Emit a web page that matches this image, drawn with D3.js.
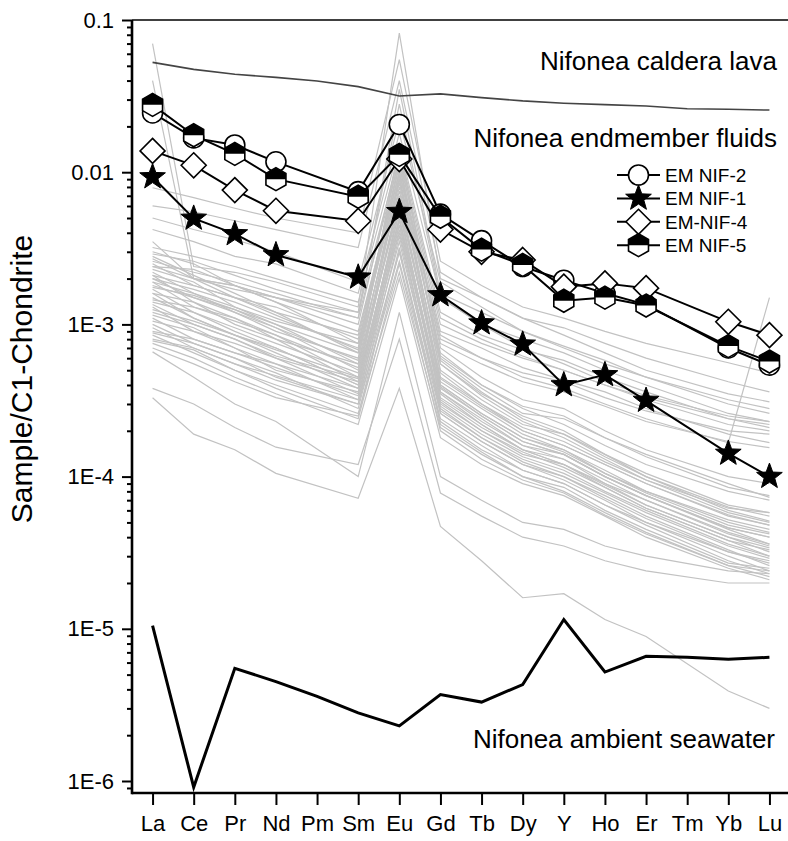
<!DOCTYPE html>
<html>
<head>
<meta charset="utf-8">
<script src="https://cdn.jsdelivr.net/npm/d3@7"></script>
<style>
  body { margin: 0; background: #fff; }
  svg { display: block; font-family: 'Liberation Sans', Arial, sans-serif; }
</style>
</head>
<body>
<div id="chart"></div>
<script>
// x categories (REE + Y)
const elements = ['La', 'Ce', 'Pr', 'Nd', 'Pm', 'Sm', 'Eu', 'Gd', 'Tb', 'Dy', 'Y', 'Ho', 'Er', 'Tm', 'Yb', 'Lu'];
// elements actually measured in the fluids (no Pm, Tm)
const measured = ['La', 'Ce', 'Pr', 'Nd', 'Sm', 'Eu', 'Gd', 'Tb', 'Dy', 'Y', 'Ho', 'Er', 'Yb', 'Lu'];

const lavaValues = [0.0527, 0.0474, 0.0440, 0.0420, 0.0397, 0.0365, 0.0317, 0.0327, 0.0309, 0.0294, 0.0284, 0.0278, 0.0272, 0.0261, 0.0259, 0.0256];
const seawaterValues = [1.05e-5, 9.1e-7, 5.5e-6, 4.5e-6, 3.6e-6, 2.8e-6, 2.3e-6, 3.7e-6, 3.3e-6, 4.3e-6, 1.15e-5, 5.2e-6, 6.6e-6, 6.5e-6, 6.3e-6, 6.5e-6];

// endmember fluids, values for `measured`
const nif2 = [0.0245, 0.0168, 0.0151, 0.0117, 0.00745, 0.0206, 0.0053, 0.00355, 0.0024, 0.00195, 0.0016, 0.00135, 0.0007, 0.00054];
const nif1 = [0.0093, 0.00497, 0.00393, 0.00286, 0.00204, 0.0055, 0.00156, 0.00102, 0.00074, 0.0004, 0.000466, 0.000316, 0.000142, 0.0001];
const nif4 = [0.0138, 0.0111, 0.00763, 0.00558, 0.00478, 0.0122, 0.0042, 0.003, 0.00265, 0.00177, 0.00186, 0.00173, 0.00104, 0.00085];
const nif5 = [0.0277, 0.0175, 0.0132, 0.009, 0.0069, 0.013, 0.0051, 0.0031, 0.00246, 0.00143, 0.0015, 0.00133, 0.00072, 0.00057];

// individual vent fluid samples (grey), values for `measured`
const grayProfiles = [
  [7.0e-2, 2.4e-3, 2.2e-3, 1.9e-3, 1.3e-3, 8.2e-2, 2.0e-3, 1.5e-3, 1.1e-3, 8.5e-4, 6.5e-4, 5.0e-4, 3.5e-4, 3.1e-4],
  [4.0e-2, 2.0e-3, 1.8e-3, 1.5e-3, 1.1e-3, 3.5e-2, 1.6e-3, 1.2e-3, 9.0e-4, 7.2e-4, 5.8e-4, 4.5e-4, 3.2e-4, 2.8e-4],
  [5.0e-3, 4.2e-3, 3.6e-3, 3.0e-3, 1.9e-3, 2.2e-2, 1.9e-3, 1.3e-3, 9.0e-4, 7.0e-4, 5.5e-4, 4.5e-4, 3.0e-4, 2.6e-4],
  [4.2e-3, 3.5e-3, 2.8e-3, 2.5e-3, 1.6e-3, 1.8e-2, 1.5e-3, 1.0e-3, 8.0e-4, 6.5e-4, 5.0e-4, 4.0e-4, 2.6e-4, 2.3e-4],
  [3.2e-3, 2.8e-3, 2.4e-3, 2.0e-3, 1.4e-3, 1.5e-2, 1.2e-3, 8.5e-4, 6.8e-4, 5.8e-4, 4.5e-4, 3.6e-4, 2.4e-4, 2.1e-4],
  [2.9e-3, 2.6e-3, 2.1e-3, 1.7e-3, 1.2e-3, 1.3e-2, 1.0e-3, 7.5e-4, 6.0e-4, 5.0e-4, 4.0e-4, 3.2e-4, 2.2e-4, 2.0e-4],
  [2.6e-3, 2.2e-3, 1.9e-3, 1.6e-3, 1.1e-3, 1.2e-2, 9.0e-4, 7.0e-4, 5.2e-4, 4.3e-4, 3.6e-4, 2.8e-4, 1.9e-4, 1.67e-4],
  [2.4e-3, 2.3e-3, 1.8e-3, 1.4e-3, 9.0e-4, 1.0e-2, 8.5e-4, 6.0e-4, 4.5e-4, 3.8e-4, 3.0e-4, 2.4e-4, 1.67e-4, 1.5e-3],
  [7.9e-3, 6.8e-3, 5.8e-3, 5.0e-3, 4.0e-3, 5.5e-2, 2.6e-3, 1.8e-3, 1.3e-3, 1.1e-3, 9.0e-4, 7.5e-4, 5.6e-4, 4.8e-4],
  [6.0e-3, 5.5e-3, 4.8e-3, 4.2e-3, 3.2e-3, 4.0e-2, 2.2e-3, 1.5e-3, 1.1e-3, 9.5e-4, 7.5e-4, 6.0e-4, 4.2e-4, 3.6e-4],
  [2.7e-3, 2.0e-3, 1.7e-3, 1.5e-3, 1.0e-3, 1.4e-2, 1.1e-3, 8.0e-4, 6.2e-4, 5.0e-4, 4.0e-4, 3.3e-4, 2.4e-4, 2.2e-4],
  [2.1e-3, 1.8e-3, 1.5e-3, 1.2e-3, 8.5e-4, 1.1e-2, 8.0e-4, 6.0e-4, 4.8e-4, 4.2e-4, 3.3e-4, 2.7e-4, 2.0e-4, 1.9e-4],
  [1.9e-3, 1.6e-3, 1.3e-3, 1.05e-3, 7.5e-4, 1.0e-2, 7.5e-4, 5.5e-4, 4.2e-4, 3.6e-4, 2.9e-4, 2.3e-4, 1.7e-4, 1.55e-4],
  [3.5e-3, 2.0e-3, 1.8e-3, 1.5e-3, 1.2e-3, 2.8e-2, 1.5e-3, 1.0e-3, 7.0e-4, 5.5e-4, 4.2e-4, 3.4e-4, 2.5e-4, 2.3e-4],
  [3.0e-3, 2.5e-3, 1.8e-3, 1.4e-3, 7.5e-4, 9.0e-3, 6.5e-4, 4.0e-4, 2.8e-4, 2.2e-4, 1.6e-4, 1.2e-4, 8.0e-5, 7.0e-5],
  [2.8e-3, 2.1e-3, 1.6e-3, 1.2e-3, 6.5e-4, 7.5e-3, 5.5e-4, 3.5e-4, 2.5e-4, 2.0e-4, 1.4e-4, 1.05e-4, 6.5e-5, 5.8e-5],
  [2.5e-3, 1.8e-3, 1.5e-3, 1.3e-3, 8.0e-4, 1.1e-2, 6.0e-4, 3.8e-4, 2.6e-4, 2.4e-4, 1.8e-4, 1.4e-4, 9.0e-5, 7.3e-5],
  [2.3e-3, 1.9e-3, 1.3e-3, 1.0e-3, 5.5e-4, 6.0e-3, 4.5e-4, 3.0e-4, 2.0e-4, 1.6e-4, 1.2e-4, 9.0e-5, 5.5e-5, 4.8e-5],
  [2.2e-3, 1.6e-3, 1.2e-3, 9.0e-4, 6.0e-4, 8.5e-3, 5.0e-4, 3.2e-4, 2.2e-4, 1.9e-4, 1.4e-4, 1.0e-4, 6.0e-5, 5.1e-5],
  [2.0e-3, 1.7e-3, 1.4e-3, 1.1e-3, 7.0e-4, 1.3e-2, 7.0e-4, 4.5e-4, 3.2e-4, 2.8e-4, 2.0e-4, 1.5e-4, 1.0e-4, 9.0e-5],
  [1.9e-3, 1.3e-3, 1.1e-3, 8.5e-4, 4.5e-4, 5.0e-3, 3.8e-4, 2.5e-4, 1.7e-4, 1.4e-4, 1.0e-4, 7.5e-5, 4.5e-5, 3.6e-5],
  [1.8e-3, 1.5e-3, 1.2e-3, 9.5e-4, 5.0e-4, 7.0e-3, 4.2e-4, 2.8e-4, 1.9e-4, 1.5e-4, 1.1e-4, 8.0e-5, 5.0e-5, 4.3e-5],
  [1.7e-3, 1.2e-3, 9.0e-4, 7.0e-4, 4.0e-4, 4.5e-3, 3.5e-4, 2.2e-4, 1.5e-4, 1.3e-4, 9.0e-5, 7.0e-5, 4.2e-5, 3.5e-5],
  [1.6e-3, 1.4e-3, 1.0e-3, 8.0e-4, 5.5e-4, 9.5e-3, 4.8e-4, 3.0e-4, 2.1e-4, 1.7e-4, 1.25e-4, 9.5e-5, 6.2e-5, 5.8e-5],
  [1.5e-3, 1.1e-3, 8.5e-4, 6.5e-4, 3.8e-4, 4.0e-3, 3.0e-4, 2.0e-4, 1.4e-4, 1.2e-4, 8.5e-5, 6.2e-5, 3.8e-5, 3.0e-5],
  [1.4e-3, 1.2e-3, 9.5e-4, 7.5e-4, 4.8e-4, 6.5e-3, 4.0e-4, 2.6e-4, 1.8e-4, 1.5e-4, 1.05e-4, 8.0e-5, 5.2e-5, 4.5e-5],
  [1.3e-3, 9.0e-4, 7.5e-4, 6.0e-4, 3.5e-4, 3.5e-3, 2.8e-4, 1.8e-4, 1.25e-4, 1.0e-4, 7.5e-5, 5.5e-5, 3.3e-5, 2.6e-5],
  [1.2e-3, 1.0e-3, 8.0e-4, 6.0e-4, 4.2e-4, 5.5e-3, 3.6e-4, 2.3e-4, 1.6e-4, 1.4e-4, 1.0e-4, 7.5e-5, 4.6e-5, 4.0e-5],
  [1.1e-3, 8.0e-4, 6.5e-4, 5.5e-4, 3.2e-4, 3.0e-3, 2.6e-4, 1.7e-4, 1.2e-4, 9.5e-5, 7.0e-5, 5.0e-5, 3.0e-5, 2.4e-5],
  [1.05e-3, 9.0e-4, 7.0e-4, 5.0e-4, 3.6e-4, 4.8e-3, 3.2e-4, 2.1e-4, 1.5e-4, 1.2e-4, 8.8e-5, 6.5e-5, 4.0e-5, 3.4e-5],
  [1.0e-3, 7.5e-4, 6.0e-4, 4.5e-4, 3.0e-4, 2.6e-3, 2.4e-4, 1.6e-4, 1.1e-4, 9.0e-5, 6.5e-5, 4.8e-5, 2.8e-5, 2.3e-5],
  [9.0e-4, 8.0e-4, 6.5e-4, 5.2e-4, 3.4e-4, 4.2e-3, 2.9e-4, 1.9e-4, 1.35e-4, 1.1e-4, 8.0e-5, 6.0e-5, 3.6e-5, 3.0e-5],
  [8.5e-4, 6.5e-4, 5.0e-4, 4.0e-4, 2.6e-4, 2.2e-3, 2.1e-4, 1.4e-4, 1.0e-4, 8.5e-5, 6.0e-5, 4.5e-5, 2.7e-5, 2.5e-5],
  [8.0e-4, 7.0e-4, 5.5e-4, 4.3e-4, 3.0e-4, 3.8e-3, 2.7e-4, 1.8e-4, 1.3e-4, 1.05e-4, 7.8e-5, 5.8e-5, 3.5e-5, 2.9e-5],
  [7.5e-4, 6.0e-4, 4.5e-4, 3.5e-4, 2.2e-4, 2.0e-3, 1.8e-4, 1.2e-4, 9.0e-5, 7.5e-5, 5.5e-5, 4.0e-5, 2.5e-5, 2.1e-5],
  [7.0e-4, 5.5e-4, 4.2e-4, 3.3e-4, 2.5e-4, 3.2e-3, 2.3e-4, 1.5e-4, 1.1e-4, 9.0e-5, 6.5e-5, 5.0e-5, 3.2e-5, 2.8e-5],
  [2.4e-3, 2.0e-3, 1.5e-3, 1.15e-3, 6.8e-4, 1.0e-2, 5.8e-4, 3.6e-4, 2.4e-4, 1.9e-4, 1.35e-4, 1.0e-4, 6.3e-5, 5.5e-5],
  [2.1e-3, 1.4e-3, 1.1e-3, 8.0e-4, 4.2e-4, 5.5e-3, 3.6e-4, 2.4e-4, 1.6e-4, 1.3e-4, 9.5e-5, 7.0e-5, 4.3e-5, 3.6e-5],
  [1.75e-3, 1.55e-3, 1.25e-3, 1.0e-3, 6.5e-4, 1.2e-2, 5.5e-4, 3.4e-4, 2.3e-4, 1.8e-4, 1.3e-4, 9.5e-5, 5.8e-5, 5.0e-5],
  [1.6e-3, 1.1e-3, 8.5e-4, 6.8e-4, 4.5e-4, 7.0e-3, 3.9e-4, 2.5e-4, 1.7e-4, 1.4e-4, 1.0e-4, 7.5e-5, 4.6e-5, 4.0e-5],
  [1.45e-3, 1.3e-3, 1.05e-3, 8.5e-4, 5.2e-4, 8.0e-3, 4.4e-4, 2.9e-4, 2.0e-4, 1.6e-4, 1.2e-4, 9.0e-5, 5.6e-5, 4.8e-5],
  [1.25e-3, 1.05e-3, 8.5e-4, 7.0e-4, 4.0e-4, 5.0e-3, 3.3e-4, 2.2e-4, 1.5e-4, 1.2e-4, 9.0e-5, 6.5e-5, 4.0e-5, 3.2e-5],
  [1.15e-3, 9.5e-4, 7.0e-4, 5.5e-4, 3.8e-4, 6.0e-3, 3.1e-4, 2.0e-4, 1.45e-4, 1.15e-4, 8.5e-5, 6.2e-5, 3.8e-5, 3.3e-5],
  [9.5e-4, 7.0e-4, 5.5e-4, 4.6e-4, 3.2e-4, 4.5e-3, 2.6e-4, 1.7e-4, 1.2e-4, 1.0e-4, 7.2e-5, 5.3e-5, 3.2e-5, 2.7e-5],
  [8.8e-4, 7.5e-4, 6.0e-4, 4.8e-4, 2.8e-4, 3.0e-3, 2.2e-4, 1.45e-4, 1.0e-4, 8.0e-5, 5.8e-5, 4.3e-5, 2.6e-5, 2.2e-5],
  [2.0e-3, 1.5e-3, 1.25e-3, 9.5e-4, 5.8e-4, 1.5e-2, 6.2e-4, 4.0e-4, 2.9e-4, 2.5e-4, 1.8e-4, 1.35e-4, 8.5e-5, 7.5e-5],
  [1.35e-3, 1.0e-3, 8.0e-4, 6.2e-4, 4.4e-4, 9.0e-3, 4.0e-4, 2.6e-4, 1.8e-4, 1.45e-4, 1.05e-4, 7.8e-5, 4.8e-5, 4.2e-5],
  [7.8e-4, 6.8e-4, 5.0e-4, 3.8e-4, 2.4e-4, 2.5e-3, 2.0e-4, 1.3e-4, 9.5e-5, 7.8e-5, 5.6e-5, 4.2e-5, 2.6e-5, 2.4e-5],
  [3.3e-4, 1.9e-4, 1.5e-4, 1.05e-4, 7.2e-5, 3.8e-4, 4.7e-5, 2.8e-5, 1.6e-5, 1.7e-5, 1.15e-5, 8.9e-6, 3.9e-6, 3.0e-6],
  [3.8e-4, 3.0e-4, 2.1e-4, 1.56e-4, 1.2e-4, 8.0e-4, 7.8e-5, 5.5e-5, 4.0e-5, 3.5e-5, 2.8e-5, 2.4e-5, 2.0e-5, 2.0e-5],
  [6.6e-4, 4.5e-4, 3.0e-4, 2.3e-4, 1.0e-4, 1.2e-3, 1.0e-4, 7.0e-5, 5.0e-5, 4.5e-5, 3.5e-5, 3.0e-5, 2.4e-5, 2.3e-5]
];

const yMajorTicks = [1e-6, 1e-5, 1e-4, 1e-3, 0.01, 0.1];
const yMajorLabels = ['1E-6', '1E-5', '1E-4', '1E-3', '0.01', '0.1'];

const legendNames = ['EM NIF-2', 'EM NIF-1', 'EM-NIF-4', 'EM NIF-5'];
const legendShapes = ['circle', 'star', 'diamond', 'hexagon'];

const w = 788;
const h = 841;
const plot = { left: 132, right: 790, top: 20, bottom: 793 };

const svg = d3.select('#chart')
  .append('svg')
  .attr('width', w)
  .attr('height', h);

const xScale = d3.scalePoint()
  .domain(elements)
  .range([plot.left, plot.right])
  .padding(0.5);

const yScale = d3.scaleLog()
  .domain([8.34e-7, 0.1])
  .range([plot.bottom, plot.top]);

svg.append('defs').append('clipPath')
  .attr('id', 'plot-clip')
  .append('rect')
  .attr('x', plot.left)
  .attr('y', plot.top)
  .attr('width', plot.right - plot.left)
  .attr('height', plot.bottom - plot.top);

const toPoints = (keys, vals) => keys.map((k, i) => [xScale(k), vals[i] == null ? null : yScale(vals[i])]);
const line = d3.line().defined(d => d[1] != null);

// grey sample profiles
const grayG = svg.append('g').attr('clip-path', 'url(#plot-clip)');
grayG.selectAll('path')
  .data(grayProfiles)
  .enter()
  .append('path')
  .attr('d', d => line(toPoints(measured, d)))
  .attr('fill', 'none')
  .attr('stroke', '#c2c2c2')
  .attr('stroke-width', 1.2);

// caldera lava
svg.append('path')
  .attr('d', line(toPoints(elements, lavaValues)))
  .attr('fill', 'none')
  .attr('stroke', '#444')
  .attr('stroke-width', 1.6);

// ambient seawater
svg.append('path')
  .attr('d', line(toPoints(elements, seawaterValues)))
  .attr('fill', 'none')
  .attr('stroke', '#000')
  .attr('stroke-width', 3)
  .attr('stroke-linejoin', 'miter');

/**
 * MARKERS
 */
const drawMarker = (g, shape, cx, cy) => {
  if (shape === 'circle') {
    g.append('circle').attr('cx', cx).attr('cy', cy).attr('r', 10)
      .attr('fill', '#fff').attr('stroke', '#000').attr('stroke-width', 1.6);
  } else if (shape === 'star') {
    const pts = d3.range(10).map(i => {
      const a = -Math.PI / 2 + i * Math.PI / 5;
      const r = i % 2 === 0 ? 13.5 : 5.6;
      return [cx + r * Math.cos(a), cy + r * Math.sin(a)];
    });
    g.append('path').attr('d', 'M' + pts.join('L') + 'Z')
      .attr('fill', '#000').attr('stroke', '#000').attr('stroke-width', 1);
  } else if (shape === 'diamond') {
    const s = 12.5;
    g.append('path')
      .attr('d', `M${cx},${cy - s}L${cx + s},${cy}L${cx},${cy + s}L${cx - s},${cy}Z`)
      .attr('fill', '#fff').attr('stroke', '#000').attr('stroke-width', 1.6);
  } else if (shape === 'hexagon') {
    const R = 11.5, hw = 10;
    const outline = `M${cx},${cy - R}L${cx + hw},${cy - R / 2}L${cx + hw},${cy + R / 2}L${cx},${cy + R}L${cx - hw},${cy + R / 2}L${cx - hw},${cy - R / 2}Z`;
    g.append('path').attr('d', outline).attr('fill', '#fff');
    g.append('path')
      .attr('d', `M${cx - hw},${cy}L${cx - hw},${cy - R / 2}L${cx},${cy - R}L${cx + hw},${cy - R / 2}L${cx + hw},${cy}Z`)
      .attr('fill', '#000');
    g.append('path').attr('d', outline)
      .attr('fill', 'none').attr('stroke', '#000').attr('stroke-width', 1.6);
  }
};

const emSeries = [nif2, nif1, nif4, nif5];
emSeries.forEach((vals, i) => {
  const g = svg.append('g');
  const pts = toPoints(measured, vals);
  g.append('path')
    .attr('d', line(pts))
    .attr('fill', 'none')
    .attr('stroke', '#000')
    .attr('stroke-width', 2);
  pts.forEach(p => drawMarker(g, legendShapes[i], p[0], p[1]));
});

/**
 * AXIS SETUP
 */
const yTicks = [];
for (let e = -7; e <= -1; e++) {
  for (let m = 1; m <= 9; m++) {
    const v = +(m * Math.pow(10, e)).toPrecision(3);
    if (v >= yScale.domain()[0] && v <= 0.1) yTicks.push(v);
  }
}
const isMajor = v => yMajorTicks.some(t => Math.abs(v / t - 1) < 1e-6);

const yAxis = d3.axisLeft(yScale)
  .tickValues(yTicks)
  .tickSize(10)
  .tickPadding(8)
  .tickFormat(v => {
    const i = yMajorTicks.findIndex(t => Math.abs(v / t - 1) < 1e-6);
    return i >= 0 ? yMajorLabels[i] : '';
  });

const yAxisG = svg.append('g')
  .attr('class', 'y-axis')
  .attr('transform', `translate(${plot.left},0)`)
  .call(yAxis);

yAxisG.selectAll('.tick').filter(d => !isMajor(d)).select('line').attr('x2', -5);

const xAxis = d3.axisBottom(xScale).tickSize(12).tickPadding(10);
svg.append('g')
  .attr('class', 'x-axis')
  .attr('transform', `translate(0,${plot.bottom})`)
  .call(xAxis);

d3.selectAll('.domain').remove();
d3.selectAll('.tick line').attr('stroke', '#000').attr('stroke-width', 2);
d3.selectAll('.tick text').attr('font-size', 22).attr('fill', '#000')
  .attr('font-family', "'Liberation Sans', Arial, sans-serif");

// frame
svg.append('line').attr('x1', plot.left).attr('x2', plot.right)
  .attr('y1', plot.top).attr('y2', plot.top)
  .attr('stroke', '#000').attr('stroke-width', 1.6);
svg.append('line').attr('x1', plot.left).attr('x2', plot.left)
  .attr('y1', plot.top).attr('y2', plot.bottom + 1.25)
  .attr('stroke', '#000').attr('stroke-width', 2.6);
svg.append('line').attr('x1', plot.left).attr('x2', plot.right)
  .attr('y1', plot.bottom).attr('y2', plot.bottom)
  .attr('stroke', '#000').attr('stroke-width', 2.6);

svg.append('text')
  .attr('text-anchor', 'middle')
  .attr('transform', `translate(32, 379)rotate(-90)`)
  .attr('font-size', 30)
  .text('Sample/C1-Chondrite');

// annotations
svg.append('text').attr('x', 777).attr('y', 70).attr('text-anchor', 'end')
  .attr('font-size', 26).text('Nifonea caldera lava');
svg.append('text').attr('x', 777).attr('y', 147).attr('text-anchor', 'end')
  .attr('font-size', 26).text('Nifonea endmember fluids');
svg.append('text').attr('x', 775).attr('y', 748).attr('text-anchor', 'end')
  .attr('font-size', 26).text('Nifonea ambient seawater');

// legend
const legend = svg.append('g').attr('class', 'legend');
legendNames.forEach((name, i) => {
  const ly = 175 + i * 23.4;
  legend.append('line')
    .attr('x1', 617).attr('x2', 660).attr('y1', ly).attr('y2', ly)
    .attr('stroke', '#000').attr('stroke-width', 2);
  drawMarker(legend, legendShapes[i], 638.5, ly);
  legend.append('text')
    .attr('x', 665).attr('y', ly + 7)
    .attr('font-size', 19)
    .text(name);
});
</script>
</body>
</html>
